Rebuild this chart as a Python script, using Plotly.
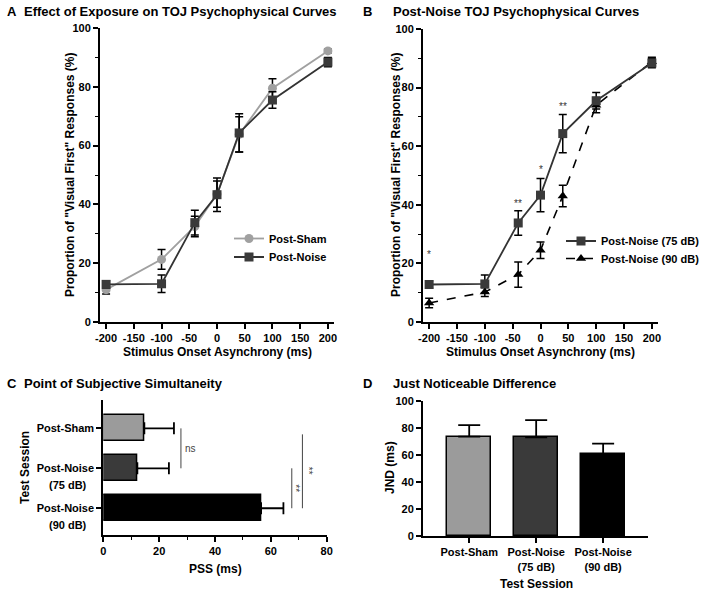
import plotly.graph_objects as go

W, H = 706, 593
FONT = "Liberation Sans, Arial, sans-serif"

# ---------------- data ----------------
soa = [-200, -100, -40, 0, 40, 100, 200]
soa_ticks = [-200, -150, -100, -50, 0, 50, 100, 150, 200]
soa_ticktext = ["-200", "-150", "-100", "-50", "0", "50", "100", "150", "200"]

sham_mean = [11.0, 21.3, 32.5, 43.5, 63.8, 79.5, 92.2]
sham_err = [1.5, 3.4, 3.5, 4.5, 6.0, 3.2, 0.6]
noise75_mean = [12.8, 13.0, 33.8, 43.3, 64.3, 75.5, 88.4]
noise75_err = [1.2, 3.0, 4.2, 5.7, 6.5, 2.8, 1.6]
noise90_mean = [6.5, 10.2, 16.2, 24.5, 43.0, 74.0, 88.8]
noise90_err = [1.6, 1.5, 4.3, 2.8, 3.7, 2.6, 1.6]

sig_soa = [-200, -40, 0, 40]
sig_label = ["*", "**", "*", "**"]
sig_y = [23.0, 40.5, 51.9, 73.5]

session_first = ["Post-Sham", "Post-Noise", "Post-Noise"]
session_second = ["", "(75 dB)", "(90 dB)"]
session_colors = ["#9b9b9b", "#3a3a3a", "#000000"]

pss_mean = [14.7, 12.2, 56.5]
pss_sem = [10.6, 11.3, 8.0]

jnd_mean = [73.6, 73.1, 60.5]
jnd_sem = [8.6, 12.8, 7.9]

# significance brackets for panel C
brk_x = [27.8, 67.5, 71.3]
brk_from = [0.0, 1.0, 0.15]
brk_to = [1.0, 2.0, 2.0]
brk_label = ["ns", "**", "**"]
brk_lab_x = [31.2, 69.0, 73.5]
brk_lab_y = [0.5, 1.5, 1.05]


def px(x):
    return x / W


def py(y):
    return 1 - y / H


fig = go.Figure()

# ---------------- Panel A ----------------
fig.add_trace(go.Scatter(
    x=soa, y=sham_mean, name="Post-Sham", mode="lines+markers",
    line=dict(color="#a0a0a0", width=1.8),
    marker=dict(symbol="circle", size=9, color="#a0a0a0"),
    error_y=dict(type="data", array=sham_err, color="black", thickness=1.5, width=4),
    xaxis="x", yaxis="y", legend="legend"))
fig.add_trace(go.Scatter(
    x=soa, y=noise75_mean, name="Post-Noise", mode="lines+markers",
    line=dict(color="#333333", width=1.8),
    marker=dict(symbol="square", size=9, color="#3a3a3a"),
    error_y=dict(type="data", array=noise75_err, color="black", thickness=1.5, width=4),
    xaxis="x", yaxis="y", legend="legend2"))

# ---------------- Panel B ----------------
fig.add_trace(go.Scatter(
    x=soa, y=noise90_mean, name="Post-Noise (90 dB)", mode="lines+markers",
    line=dict(color="black", width=1.6, dash="dash"),
    marker=dict(symbol="triangle-up", size=9, color="black"),
    error_y=dict(type="data", array=noise90_err, color="black", thickness=1.5, width=4),
    xaxis="x2", yaxis="y2", legend="legend4"))
fig.add_trace(go.Scatter(
    x=soa, y=noise75_mean, name="Post-Noise (75 dB)", mode="lines+markers",
    line=dict(color="#333333", width=1.8),
    marker=dict(symbol="square", size=9, color="#3a3a3a"),
    error_y=dict(type="data", array=noise75_err, color="black", thickness=1.5, width=4),
    xaxis="x2", yaxis="y2", legend="legend3"))

# ---------------- Panel C ----------------
cat_idx = list(range(len(pss_mean)))
fig.add_trace(go.Bar(
    x=pss_mean, y=cat_idx, orientation="h", width=0.65,
    marker=dict(color=session_colors, line=dict(color="black", width=1.5)),
    error_x=dict(type="data", array=pss_sem, arrayminus=[0] * 3, symmetric=False,
                 color="black", thickness=1.8, width=6),
    showlegend=False, xaxis="x3", yaxis="y3"))

# ---------------- Panel D ----------------
fig.add_trace(go.Bar(
    x=cat_idx, y=jnd_mean, width=0.66,
    marker=dict(color=session_colors, line=dict(color="black", width=1.5)),
    error_y=dict(type="data", array=jnd_sem, arrayminus=[0] * 3, symmetric=False,
                 color="black", thickness=1.8, width=11),
    showlegend=False, xaxis="x4", yaxis="y4"))

tickfont = dict(family=FONT, size=11, color="black", weight="bold")
axis_common = dict(showline=True, linecolor="black", linewidth=2, ticks="outside",
                   ticklen=5, tickwidth=1.5, tickcolor="black", showgrid=False,
                   zeroline=False, tickfont=tickfont, automargin=False)

minor_y = dict(dtick=10, ticks="outside", ticklen=3, tickwidth=1.2, tickcolor="black", showgrid=False)


def leg(x, y):
    return dict(x=px(x), y=py(y), xanchor="left", yanchor="middle",
                bgcolor="rgba(0,0,0,0)", font=dict(family=FONT, size=11, weight="bold"),
                tracegroupgap=0, itemwidth=30)


layout = dict(
    width=W, height=H, margin=dict(l=0, r=0, t=0, b=0, autoexpand=False),
    paper_bgcolor="white", plot_bgcolor="white",
    font=dict(family=FONT, color="black"),
    bargap=0,
    xaxis=dict(domain=[px(100), px(334)], anchor="y", range=[-211, 211],
               tickvals=soa_ticks, ticktext=soa_ticktext, **axis_common),
    yaxis=dict(domain=[py(322), py(28)], anchor="x", range=[0, 100], dtick=20,
               minor=minor_y, **axis_common),
    xaxis2=dict(domain=[px(423), px(658)], anchor="y2", range=[-211, 211],
                tickvals=soa_ticks, ticktext=soa_ticktext, **axis_common),
    yaxis2=dict(domain=[py(322), py(29)], anchor="x2", range=[0, 100], dtick=20,
                minor=minor_y, **axis_common),
    xaxis3=dict(domain=[px(103.3), px(326.7)], anchor="y3", range=[0, 80], dtick=20,
                minor=dict(dtick=10, ticks="outside", ticklen=3, tickwidth=1.2, tickcolor="black"),
                **axis_common),
    yaxis3=dict(domain=[py(535), py(400)], anchor="x3", range=[2.67, -0.71],
                tickvals=cat_idx, ticktext=session_first, **axis_common),
    xaxis4=dict(domain=[px(423), px(648)], anchor="y4", range=[-0.69, 2.67],
                tickvals=cat_idx,
                ticktext=[a if not b else a + "<br>" + b for a, b in zip(session_first, session_second)],
                **axis_common),
    yaxis4=dict(domain=[py(536), py(401)], anchor="x4", range=[0, 100], dtick=20,
                **axis_common),
    legend=leg(229, 238.5),
    legend2=leg(229, 257),
    legend3=leg(561, 241),
    legend4=leg(561, 258.5),
)
fig.update_layout(**layout)

ann = []


def text(x, y, t, size=11, bold=True, angle=0, xanchor="center", yanchor="middle", color="black"):
    ann.append(dict(x=px(x), y=py(y), xref="paper", yref="paper", text=t, showarrow=False,
                    textangle=angle, xanchor=xanchor, yanchor=yanchor,
                    font=dict(family=FONT, size=size, color=color, weight="bold" if bold else "normal")))


# panel titles
text(5, 12, "A", 13, xanchor="left")
text(22, 12, "Effect of Exposure on TOJ Psychophysical Curves", 13, xanchor="left")
text(361, 12, "B", 13, xanchor="left")
text(391, 12, "Post-Noise TOJ Psychophysical Curves", 13, xanchor="left")
text(5, 383, "C", 13, xanchor="left")
text(22, 383, "Point of Subjective Simultaneity", 13, xanchor="left")
text(361, 383, "D", 13, xanchor="left")
text(391, 383, "Just Noticeable Difference", 13, xanchor="left")

# axis titles
ytitle = 'Proportion of "Visual First" Responses (%)'
text(70, 175, ytitle, 12, angle=-90)
text(396, 175, ytitle, 12, angle=-90)
text(217, 352, "Stimulus Onset Asynchrony (ms)", 12)
text(540, 352, "Stimulus Onset Asynchrony (ms)", 12)
text(25, 468, "Test Session", 12, angle=-90)
text(215, 569, "PSS (ms)", 12)
text(390, 468, "JND (ms)", 12, angle=-90)
text(536, 584, "Test Session", 12)

fig.update_layout(annotations=ann)

# second-line category labels for panel C (under the tick labels)
for i, s in enumerate(session_second):
    if s:
        fig.add_annotation(x=px(68), xref="paper", y=i, yref="y3", yshift=-17, text=s,
                           xanchor="center", yanchor="middle",
                           showarrow=False, font=dict(family=FONT, size=11, weight="bold"))

# significance stars for panel B
for xv, yv, lab in zip(sig_soa, sig_y, sig_label):
    fig.add_annotation(x=xv, y=yv, xref="x2", yref="y2", text=lab, showarrow=False,
                       xanchor="center", yanchor="middle",
                       font=dict(family=FONT, size=10, color="#333333"))

# significance brackets for panel C
for xv, y0, y1, lab, lx, ly in zip(brk_x, brk_from, brk_to, brk_label, brk_lab_x, brk_lab_y):
    fig.add_shape(type="line", x0=xv, x1=xv, y0=y0, y1=y1, xref="x3", yref="y3",
                  line=dict(color="#444444", width=1))
    fig.add_annotation(x=lx, y=ly, xref="x3", yref="y3", text=lab, showarrow=False,
                       xanchor="center", yanchor="middle",
                       textangle=0 if lab == "ns" else 90,
                       font=dict(family=FONT, size=10, color="#444444"))

fig.write_html("out.html", config={"displayModeBar": False},
               post_script="document.body.style.margin='0';document.body.style.overflow='hidden';")
